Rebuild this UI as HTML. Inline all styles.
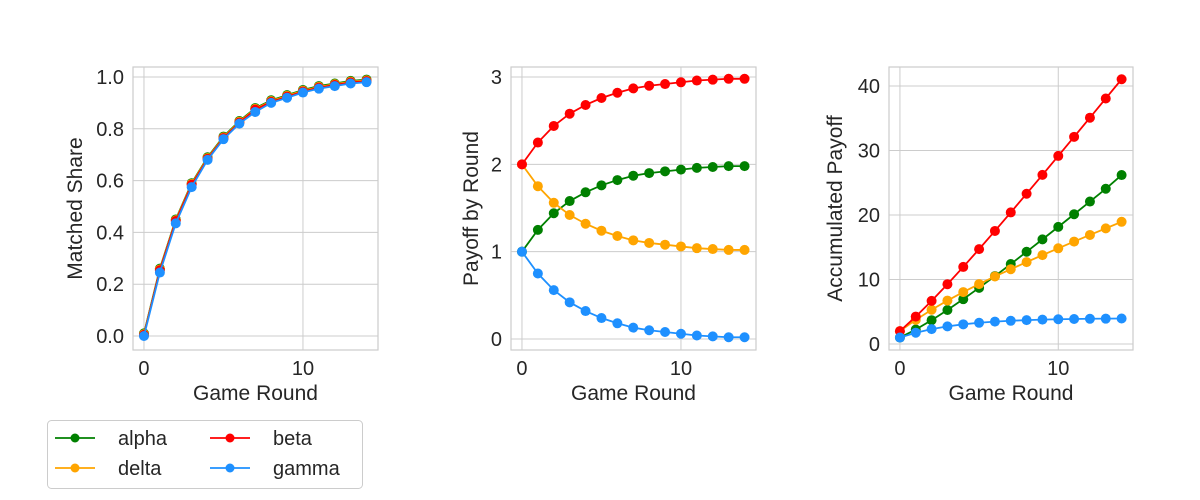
<!DOCTYPE html>
<html><head><meta charset="utf-8"><style>
body{margin:0;background:#fff;}
svg{display:block;font-family:"Liberation Sans",Arial,sans-serif;}
</style></head><body>
<svg id="c" width="1200" height="500"></svg>
<script>
const rounds=[0,1,2,3,4,5,6,7,8,9,10,11,12,13,14];
const seriesNames=["alpha","delta","beta","gamma"];
const seriesColors=["green","orange","red","dodgerblue"];
const shareAlpha=[0.01,0.26,0.45,0.59,0.69,0.77,0.83,0.88,0.91,0.93,0.95,0.965,0.975,0.985,0.99];
const shareDelta=[0.007,0.257,0.447,0.587,0.687,0.767,0.827,0.877,0.907,0.927,0.947,0.962,0.972,0.982,0.987];
const shareBeta=[0.004,0.254,0.444,0.584,0.684,0.764,0.824,0.874,0.904,0.924,0.944,0.959,0.969,0.979,0.984];
const shareGamma=[0,0.245,0.435,0.575,0.68,0.76,0.82,0.865,0.9,0.92,0.94,0.955,0.965,0.975,0.98];
const payAlpha=[1,1.25,1.44,1.58,1.68,1.76,1.82,1.87,1.9,1.92,1.94,1.96,1.97,1.98,1.98];
const payDelta=[2,1.75,1.56,1.42,1.32,1.24,1.18,1.13,1.1,1.08,1.06,1.04,1.03,1.02,1.02];
const payBeta=[2,2.25,2.44,2.58,2.68,2.76,2.82,2.87,2.9,2.92,2.94,2.96,2.97,2.98,2.98];
const payGamma=[1,0.75,0.56,0.42,0.32,0.24,0.18,0.13,0.1,0.08,0.06,0.04,0.03,0.02,0.02];
const accAlpha=[1,2.25,3.69,5.27,6.95,8.71,10.53,12.4,14.3,16.22,18.16,20.12,22.09,24.07,26.2];
const accDelta=[2,3.75,5.31,6.73,8.05,9.29,10.47,11.6,12.7,13.78,14.84,15.88,16.91,17.93,18.95];
const accBeta=[2,4.25,6.69,9.27,11.95,14.71,17.53,20.4,23.3,26.22,29.16,32.12,35.09,38.07,41.05];
const accGamma=[1,1.75,2.31,2.73,3.05,3.29,3.47,3.6,3.7,3.78,3.84,3.88,3.91,3.93,3.95];
const xTicks=[0,10];
const shareTicks=[0,0.2,0.4,0.6,0.8,1.0];
const shareTickLabels=["0.0","0.2","0.4","0.6","0.8","1.0"];
const payTicks=[0,1,2,3];
const accTicks=[0,10,20,30,40];

const NS="http://www.w3.org/2000/svg";
const svg=document.getElementById('c');
function mk(t,a,p){const e=document.createElementNS(NS,t);for(const k in a)e.setAttribute(k,a[k]);(p||svg).appendChild(e);return e;}

const panels=[
 {name:"matched-share",x0:133,x1:378,ymin:-0.054,ymax:1.0386,ticks:shareTicks,labels:shareTickLabels,ylabel:"Matched Share",ylx:82,data:[shareAlpha,shareDelta,shareBeta,shareGamma]},
 {name:"payoff-by-round",x0:511,x1:756,ymin:-0.126,ymax:3.115,ticks:payTicks,labels:payTicks.map(String),ylabel:"Payoff by Round",ylx:478,data:[payAlpha,payDelta,payBeta,payGamma]},
 {name:"accumulated-payoff",x0:889,x1:1133,ymin:-0.93,ymax:42.95,ticks:accTicks,labels:accTicks.map(String),ylabel:"Accumulated Payoff",ylx:842,data:[accAlpha,accDelta,accBeta,accGamma]}
];
const yTop=67,yBot=350,xmin=-0.69,xmax=14.72;
panels.forEach(p=>{
  const g=mk('g',{});
  
  
  const sx=v=>p.x0+(v-xmin)/(xmax-xmin)*(p.x1-p.x0);
  const sy=v=>yBot-(v-p.ymin)/(p.ymax-p.ymin)*(yBot-yTop);
  xTicks.forEach(t=>{
    const l=mk('line',{x1:sx(t),x2:sx(t),y1:yTop,y2:yBot,stroke:"#cccccc","stroke-width":1},g);
    
    
    const tx=mk('text',{x:sx(t),y:yBot+25,"text-anchor":"middle","font-size":20,fill:"#262626"},g);
    tx.textContent=String(t);
    
    
  });
  p.ticks.forEach((t,i)=>{
    const l=mk('line',{x1:p.x0,x2:p.x1,y1:sy(t),y2:sy(t),stroke:"#cccccc","stroke-width":1},g);
    
    
    const tx=mk('text',{x:p.x0-9,y:sy(t)+7,"text-anchor":"end","font-size":20,fill:"#262626"},g);
    tx.textContent=p.labels[i];
    
    
  });
  const fr=mk('rect',{x:p.x0,y:yTop,width:p.x1-p.x0,height:yBot-yTop,fill:"none",stroke:"#cccccc","stroke-width":1.2},g);
  
  
  const xl=mk('text',{x:(p.x0+p.x1)/2,y:400,"text-anchor":"middle","font-size":21,fill:"#262626"},g);
  xl.textContent="Game Round";
  
  
  const cy=(yTop+yBot)/2;
  const yl=mk('text',{x:p.ylx,y:cy,"text-anchor":"middle","font-size":21,fill:"#262626",transform:"rotate(-90 "+p.ylx+" "+cy+")"},g);
  yl.textContent=p.ylabel;
  
  
  p.data.forEach((arr,si)=>{
    const sg=mk('g',{},g);
    
    
    const pts=arr.map((v,i)=>sx(rounds[i])+","+sy(v)).join(" ");
    const pl=mk('polyline',{points:pts,fill:"none",stroke:seriesColors[si],"stroke-width":1.8},sg);
    
    
    arr.forEach((v,i)=>{
      const c=mk('circle',{cx:sx(rounds[i]),cy:sy(v),r:5,fill:seriesColors[si]},sg);
      
      
    });
  });
});
const lg=mk('g',{});


const lb=mk('rect',{x:47.5,y:420.5,width:315,height:68,rx:4,fill:"#fff",stroke:"#cccccc","stroke-width":1},lg);


const legPos=[[55,438],[55,468],[210,438],[210,468]];
seriesNames.forEach((n,i)=>{
  const x=legPos[i][0],y=legPos[i][1];
  const e=mk('g',{},lg);
  
  
  mk('line',{x1:x,x2:x+40,y1:y,y2:y,stroke:seriesColors[i],"stroke-width":1.8},e);
  mk('circle',{cx:x+20,cy:y,r:4.5,fill:seriesColors[i]},e);
  const t=mk('text',{x:x+63,y:y+7,"font-size":20,fill:"#262626"},e);
  t.textContent=n;
});
</script>
</body></html>
